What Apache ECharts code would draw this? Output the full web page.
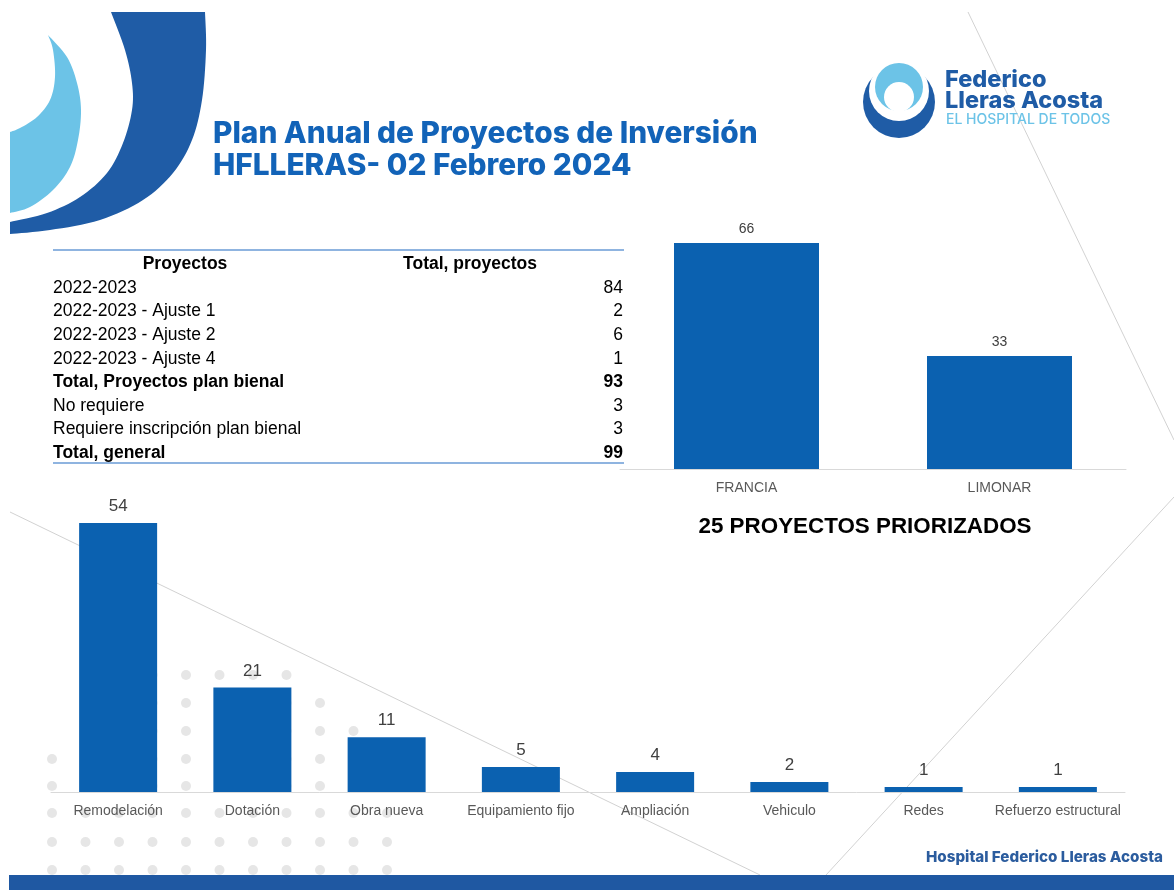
<!DOCTYPE html>
<html>
<head>
<meta charset="utf-8">
<title>Plan Anual de Proyectos de Inversión</title>
<script src="https://cdn.jsdelivr.net/npm/echarts@6/dist/echarts.min.js"></script>
<style>
  html, body { margin: 0; padding: 0; background: #ffffff; }
  #chart { width: 1174px; height: 890px; }
</style>
</head>
<body>
<div id="chart"></div>
<script>
// Slide texts
const titleLines = ['Plan Anual de Proyectos de Inversión', 'HFLLERAS- 02 Febrero 2024'];
const subtitle = '25 PROYECTOS PRIORIZADOS';
const logoLines = ['Federico', 'Lleras Acosta', 'EL HOSPITAL DE TODOS'];
const footerText = 'Hospital Federico Lleras Acosta';

// Summary table
const tableHeader = ['Proyectos', 'Total, proyectos'];
const tableLabels = [
  '2022-2023',
  '2022-2023 - Ajuste 1',
  '2022-2023 - Ajuste 2',
  '2022-2023 - Ajuste 4',
  'Total, Proyectos plan bienal',
  'No requiere',
  'Requiere inscripción plan bienal',
  'Total, general'
];
const tableValues = [84, 2, 6, 1, 93, 3, 3, 99];
const totalRows = ['Total, Proyectos plan bienal', 'Total, general'];

// Projects per site
const sedeCategories = ['FRANCIA', 'LIMONAR'];
const sedeValues = [66, 33];

// Projects per type
const tipoCategories = ['Remodelación', 'Dotación', 'Obra nueva', 'Equipamiento fijo',
  'Ampliación', 'Vehiculo', 'Redes', 'Refuerzo estructural'];
const tipoValues = [54, 21, 11, 5, 4, 2, 1, 1];

const BAR = '#0b61b0';
const DARK = '#1f5ca6';
const LIGHT = '#6cc3e7';
const SANS = '"Liberation Sans", Arial, sans-serif';
const DISPLAY = 'Inter, "Open Sans", sans-serif';

// Catmull-Rom sampling for the decorative curved shapes
function spline(pts, steps) {
  const out = [];
  for (let i = 0; i < pts.length - 1; i++) {
    const p0 = pts[Math.max(0, i - 1)], p1 = pts[i], p2 = pts[i + 1], p3 = pts[Math.min(pts.length - 1, i + 2)];
    for (let s = 0; s < steps; s++) {
      const t = s / steps, t2 = t * t, t3 = t2 * t;
      const f = (a, b, c, d) => 0.5 * ((2 * b) + (-a + c) * t + (2 * a - 5 * b + 4 * c - d) * t2 + (-a + 3 * b - 3 * c + d) * t3);
      out.push([f(p0[0], p1[0], p2[0], p3[0]), f(p0[1], p1[1], p2[1], p3[1])]);
    }
  }
  out.push(pts[pts.length - 1]);
  return out;
}

const graphics = [];

// faint background strokes
[[10, 512, 760, 875], [968, 12, 1174, 440], [826, 875, 1174, 497]].forEach(l => {
  graphics.push({ type: 'line', z: -10, shape: { x1: l[0], y1: l[1], x2: l[2], y2: l[3] },
    style: { stroke: '#d2d2d2', lineWidth: 1 } });
});

// dotted pattern, lower left
const dotRows = [675, 703, 731, 759, 786, 813, 842, 870];
dotRows.forEach((y, r) => {
  const first = r < 3 ? 3 : 0;
  const last = r < 3 ? 7 + r : 10;
  for (let c = first; c <= last; c++) {
    graphics.push({ type: 'circle', z: -10, shape: { cx: 52 + 33.5 * c, cy: y, r: 5 },
      style: { fill: '#e6e6e6' } });
  }
});

// corner crescents
const darkOuter = [[205, 12], [206, 50], [202, 100], [192, 140], [173, 173], [143, 200], [100, 220], [50, 230], [10, 234]];
const darkInner = [[10, 222], [47, 213], [80, 197], [107, 173], [123, 143], [132, 110], [132, 83], [125, 50], [111, 12]];
graphics.push({ type: 'polygon', z: -5, shape: { points: spline(darkOuter, 8).concat(spline(darkInner, 8)) },
  style: { fill: DARK } });
const lightOuter = [[48, 35], [67, 57], [77, 83], [81, 110], [78, 140], [70, 167], [53, 190], [30, 207], [10, 213]];
const lightInner = [[10, 132], [20, 128], [37, 117], [50, 100], [55, 77], [53, 50], [48, 35]];
graphics.push({ type: 'polygon', z: -5, shape: { points: spline(lightOuter, 8).concat(spline(lightInner, 8)) },
  style: { fill: LIGHT } });

// title
titleLines.forEach((t, i) => {
  graphics.push({ type: 'text', x: 213, y: 134 + i * 32, style: {
    text: t, fill: '#1263b8', font: '800 29.8px ' + DISPLAY, textVerticalAlign: 'middle' } });
});

// hospital logo
graphics.push({ type: 'circle', shape: { cx: 899, cy: 102, r: 36 }, style: { fill: DARK } });
graphics.push({ type: 'circle', shape: { cx: 899, cy: 91, r: 30 }, style: { fill: '#ffffff' } });
graphics.push({ type: 'circle', shape: { cx: 899, cy: 87, r: 24 }, style: { fill: LIGHT } });
graphics.push({ type: 'circle', shape: { cx: 899, cy: 97, r: 15 }, style: { fill: '#ffffff' } });
graphics.push({ type: 'text', x: 945, y: 80, style: { text: logoLines[0], fill: DARK,
  font: '800 23.5px ' + DISPLAY, textVerticalAlign: 'middle' } });
graphics.push({ type: 'text', x: 945, y: 101, style: { text: logoLines[1], fill: DARK,
  font: '800 23.5px ' + DISPLAY, textVerticalAlign: 'middle' } });
graphics.push({ type: 'text', x: 946, y: 120, style: { text: logoLines[2], fill: LIGHT,
  font: '500 14px ' + DISPLAY, textVerticalAlign: 'middle' } });

// table
const TL = 53, TR = 624, rowY0 = 288, rowStep = 23.6, FS = '17.5px ';
graphics.push({ type: 'line', shape: { x1: TL, y1: 250, x2: TR, y2: 250 }, style: { stroke: '#6a9bd6', lineWidth: 1.5 } });
graphics.push({ type: 'line', shape: { x1: TL, y1: 463, x2: TR, y2: 463 }, style: { stroke: '#6a9bd6', lineWidth: 1.5 } });
graphics.push({ type: 'text', x: 185, y: 264, style: { text: tableHeader[0], fill: '#000',
  font: 'bold ' + FS + SANS, textAlign: 'center', textVerticalAlign: 'middle' } });
graphics.push({ type: 'text', x: 470, y: 264, style: { text: tableHeader[1], fill: '#000',
  font: 'bold ' + FS + SANS, textAlign: 'center', textVerticalAlign: 'middle' } });
tableLabels.forEach((lab, i) => {
  const w = totalRows.includes(lab) ? 'bold ' : '';
  const y = rowY0 + i * rowStep;
  graphics.push({ type: 'text', x: TL, y: y, style: { text: lab, fill: '#000',
    font: w + FS + SANS, textVerticalAlign: 'middle' } });
  graphics.push({ type: 'text', x: 623, y: y, style: { text: String(tableValues[i]), fill: '#000',
    font: w + FS + SANS, textAlign: 'right', textVerticalAlign: 'middle' } });
});

// section subtitle
graphics.push({ type: 'text', x: 865, y: 527, style: { text: subtitle, fill: '#000',
  font: 'bold 22.4px ' + SANS, textAlign: 'center', textVerticalAlign: 'middle' } });

// footer
graphics.push({ type: 'text', x: 1163, y: 857, style: { text: footerText, fill: '#2b5c9e',
  font: '800 15.2px ' + DISPLAY, textAlign: 'right', textVerticalAlign: 'middle' } });
graphics.push({ type: 'rect', z: 10, shape: { x: 9, y: 875, width: 1165, height: 15 }, style: { fill: '#1f58a2' } });

const axisCommon = {
  type: 'category',
  axisLine: { lineStyle: { color: '#d9d9d9', width: 1 } },
  axisTick: { show: false },
  axisLabel: { color: '#595959', fontSize: 14, fontFamily: SANS, margin: 12, interval: 0 }
};

const option = {
  backgroundColor: '#ffffff',
  animation: false,
  grid: [
    { left: 620, right: 48, top: 229.3, bottom: 421 },
    { left: 51, right: 49, top: 493.1, bottom: 98 }
  ],
  xAxis: [
    Object.assign({ gridIndex: 0, data: sedeCategories }, axisCommon),
    Object.assign({ gridIndex: 1, data: tipoCategories }, axisCommon)
  ],
  yAxis: [
    { type: 'value', gridIndex: 0, min: 0, max: 70, show: false },
    { type: 'value', gridIndex: 1, min: 0, max: 60, show: false }
  ],
  series: [
    {
      type: 'bar', xAxisIndex: 0, yAxisIndex: 0, data: sedeValues, barWidth: 145,
      itemStyle: { color: BAR },
      label: { show: true, position: 'top', distance: 7, color: '#404040', fontSize: 14, fontFamily: SANS }
    },
    {
      type: 'bar', xAxisIndex: 1, yAxisIndex: 1, data: tipoValues, barWidth: 78,
      itemStyle: { color: BAR },
      label: { show: true, position: 'top', distance: 8, color: '#404040', fontSize: 17, fontFamily: SANS }
    }
  ],
  graphic: { elements: graphics }
};

const chart = echarts.init(document.getElementById('chart'), null, { renderer: 'canvas' });
chart.setOption(option);
</script>
</body>
</html>
